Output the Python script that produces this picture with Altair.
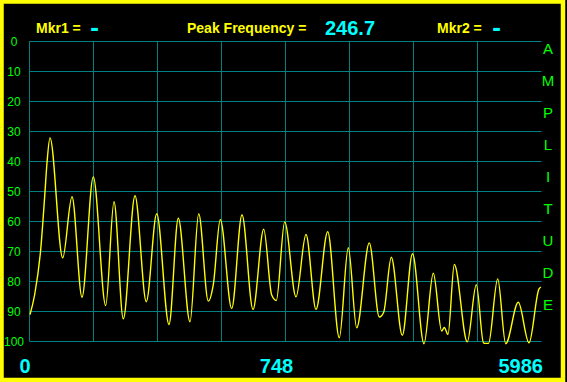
import altair as alt
import pandas as pd

# ---- data (frequency bin, amplitude) ----
bins = [1, 5.7, 11.7, 15.7, 18, 21, 33.7, 43, 53, 64.3, 76.7, 85, 94.3, 106, 117.3,
        127.7, 140, 149.3, 161, 169.7, 179.3, 184.3, 191.3, 202.7, 213, 224, 234.7,
        242.7, 247.3, 255.7, 267, 277, 287, 298.7, 310.3, 319.3, 327.7, 340.3, 350.3,
        354.7, 362.3, 373.3, 383.5, 395, 404.3, 412.7, 415.3, 419, 425.3, 438.3, 447.3,
        454.5, 456.7, 459.5, 468.7, 476.7, 489.3, 500, 510, 512]
amplitude = [91.2, 84.5, 69.5, 51.7, 40.6, 32.3, 72.3, 51.9, 85.4, 45.3, 88.2, 53.6,
             92.6, 51.6, 86.9, 57.6, 94.5, 59.1, 93.6, 57.6, 86.7, 81.2, 59.5, 89.2,
             57.9, 89.5, 62.7, 84.7, 86.5, 60.3, 85.3, 64.5, 89.5, 63.6, 98.9, 68.9,
             95.6, 67.3, 92.0, 90.4, 72.1, 98.1, 70.9, 100.9, 77.4, 96.7, 95.5, 97.8,
             74.5, 100.3, 81.2, 100.6, 100.8, 100.8, 79.3, 100.9, 87.1, 100.6, 82.6, 82.0]

x_grid = [0, 64, 128, 192, 256, 320, 384, 448]
y_ticks = [0, 10, 20, 30, 40, 50, 60, 70, 80, 90, 100]
freq_labels = ["0", "748", "5986"]
side_letters = list("AMPLITUDE")
peak_frequency = "246.7"

YELLOW = "#FFFF00"
CYAN = "#00FFFF"
GREEN = "#00FF00"
GRID = "#008080"
FONT = "Liberation Sans"

df = pd.DataFrame({"bin": bins, "amplitude": amplitude})
one = alt.Data(values=[{}])

x_enc = alt.X("bin:Q",
              scale=alt.Scale(domain=[0, 512], nice=False, zero=False),
              axis=alt.Axis(values=x_grid, grid=True, gridColor=GRID, gridOpacity=1,
                            gridWidth=1, labels=False, ticks=False, tickSize=0,
                            domain=False, title=None))
y_enc = alt.Y("amplitude:Q",
              scale=alt.Scale(domain=[0, 100], reverse=True, nice=False, zero=False),
              axis=alt.Axis(values=y_ticks, grid=True, gridColor=GRID, gridOpacity=1,
                            gridWidth=1, labelColor=GREEN, labelFont=FONT,
                            labelFontSize=12, labelAlign="center",
                            labelBaseline="middle", labelPadding=15.5,
                            labelOverlap=False, labelFlush=False, labelBound=False,
                            ticks=False, tickSize=0, domain=False, title=None))

line = alt.Chart(df).mark_line(color=YELLOW, strokeWidth=1.4,
                               interpolate="monotone", clip=False).encode(x=x_enc, y=y_enc)


def txt(text, x, y, color, size, bold=True, align="left", baseline="alphabetic"):
    return alt.Chart(one).mark_text(
        text=text, color=color, font=FONT, fontSize=size,
        fontWeight="bold" if bold else "normal", align=align, baseline=baseline
    ).encode(x=alt.value(x), y=alt.value(y))


header = [
    txt("Mkr1 =", 7, -8.5, YELLOW, 14),
    txt("-", 65.5, -4.7, CYAN, 26, align="center"),
    txt("Peak Frequency =", 158, -8.5, YELLOW, 14),
    txt(peak_frequency, 296, -6, CYAN, 20),
    txt("Mkr2 =", 408, -8.5, YELLOW, 14),
    txt("-", 467.5, -4.7, CYAN, 26, align="center"),
]

footer = [
    txt(freq_labels[0], -4, 332, CYAN, 20, align="center"),
    txt(freq_labels[1], 247.5, 332, CYAN, 20, align="center"),
    txt(freq_labels[2], 514, 332, CYAN, 20, align="right"),
]

letters_df = pd.DataFrame({"letter": side_letters, "i": list(range(len(side_letters)))})
side = alt.Chart(letters_df).transform_calculate(
    ypx="8 + 32 * datum.i"
).mark_text(color=GREEN, font=FONT, fontSize=15, align="center", baseline="middle").encode(
    x=alt.value(519),
    y=alt.Y("ypx:Q", scale=None, axis=None),
    text="letter:N",
)

frame = alt.Chart(one).mark_rect(fill=None, fillOpacity=0, stroke=YELLOW, strokeWidth=4.5,
                                 clip=False).encode(
    x=alt.value(-27.5), x2=alt.value(534), y=alt.value(-39.5), y2=alt.value(339)
)

chart = alt.layer(line, side, frame, *header, *footer).properties(
    width=512, height=300,
    autosize=alt.AutoSizeParams(type="none"),
    padding={"left": 29, "top": 41, "right": 26, "bottom": 41},
    background="#000000",
).configure_view(stroke=None).configure_axis(gridColor=GRID, gridOpacity=1)

chart.save("out.html", embed_options={"renderer": "svg", "actions": False})
